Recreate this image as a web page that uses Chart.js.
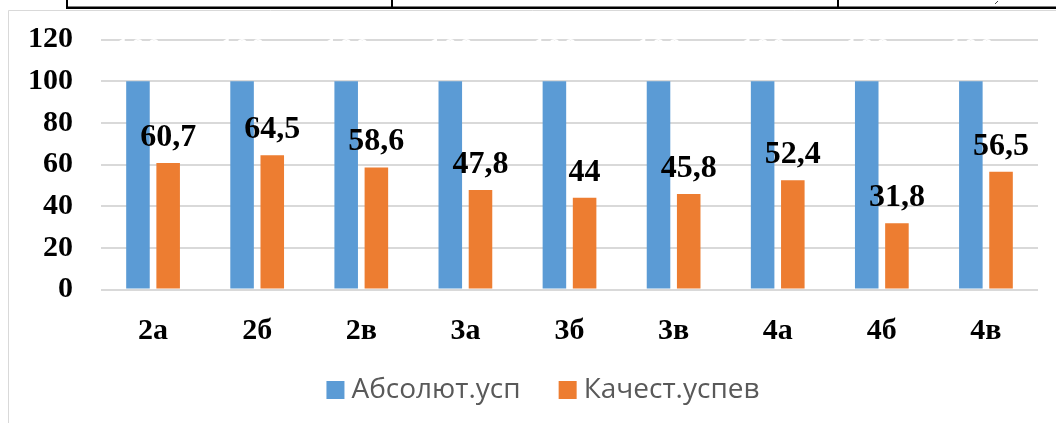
<!DOCTYPE html>
<html><head><meta charset="utf-8">
<script src="https://cdn.jsdelivr.net/npm/chart.js@4.4.1/dist/chart.umd.min.js"></script>
<style>html,body{margin:0;padding:0;background:#fff;overflow:hidden;} #wrap{width:1056px;height:423px;position:relative;}</style>
</head><body><div id="wrap"><canvas id="c" width="1056" height="423"></canvas></div>
<script>
const categories = ['2а','2б','2в','3а','3б','3в','4а','4б','4в'];
const absValues = [100,100,100,100,100,100,100,100,100];
const qualValues = [60.7,64.5,58.6,47.8,44,45.8,52.4,31.8,56.5];
const seriesNames = ['Абсолют.усп','Качест.успев'];
const seriesColors = ['#5b9bd5','#ed7d31'];
const yTicks = [0,20,40,60,80,100,120];

const serif = '"Liberation Serif", "Times New Roman", serif';
const fmt = v => String(v).replace('.', ',');

const decorPlugin = {
  id: 'decor',
  beforeDraw(chart) {
    const ctx = chart.ctx;
    ctx.save();
    ctx.fillStyle = '#fff';
    ctx.fillRect(0, 0, chart.width, chart.height);
    ctx.fillStyle = '#000';
    ctx.fillRect(66, 6.5, 990, 2.5);
    ctx.fillRect(66, 0, 2, 8);
    ctx.fillRect(391, 0, 2, 8);
    ctx.fillRect(837, 0, 2, 8);
    ctx.strokeStyle = '#444';
    ctx.lineWidth = 1;
    ctx.beginPath(); ctx.moveTo(995, 4); ctx.lineTo(998, 1); ctx.stroke();
    ctx.strokeStyle = '#d9d9d9';
    ctx.lineWidth = 1;
    ctx.beginPath();
    ctx.moveTo(8.5, 423); ctx.lineTo(8.5, 10.5); ctx.lineTo(1056, 10.5);
    ctx.stroke();
    ctx.restore();
  },
  afterDatasetsDraw(chart) {
    const ctx = chart.ctx;
    ctx.save();
    ctx.font = 'bold 32px ' + serif;
    ctx.textAlign = 'center';
    ctx.textBaseline = 'alphabetic';
    chart.data.datasets.forEach((ds, di) => {
      const meta = chart.getDatasetMeta(di);
      meta.data.forEach((bar, i) => {
        ctx.fillStyle = di === 0 ? '#ffffff' : '#000000';
        const off = di === 0 ? 21 : 17;
        ctx.fillText(fmt(ds.data[i]), bar.x, bar.y - off);
      });
    });
    ctx.restore();
  },
  afterDraw(chart) {
    const ctx = chart.ctx;
    ctx.save();
    ctx.font = '28px "Open Sans", sans-serif';
    ctx.textBaseline = 'alphabetic';
    ctx.textAlign = 'left';
    const box = 18, gapT = 7, gapI = 38;
    const widths = chart.data.datasets.map(ds => ctx.measureText(ds.label).width);
    let total = 0;
    widths.forEach((w, i) => { total += box + gapT + w + (i < widths.length - 1 ? gapI : 0); });
    let x = 543 - total / 2;
    chart.data.datasets.forEach((ds, i) => {
      ctx.fillStyle = ds.backgroundColor;
      ctx.fillRect(x, 381, box, box);
      x += box + gapT;
      ctx.fillStyle = '#595959';
      ctx.fillText(ds.label, x, 398);
      x += widths[i] + gapI;
    });
    ctx.restore();
  }
};

new Chart(document.getElementById('c'), {
  type: 'bar',
  data: {
    labels: categories,
    datasets: [
      { label: seriesNames[0], data: absValues, backgroundColor: seriesColors[0] },
      { label: seriesNames[1], data: qualValues, backgroundColor: seriesColors[1] }
    ]
  },
  options: {
    responsive: false,
    animation: false,
    devicePixelRatio: 1,
    categoryPercentage: 0.58,
    barPercentage: 0.78,
    layout: { padding: { top: 39.5, right: 18, left: 0, bottom: 0 } },
    plugins: { legend: { display: false }, tooltip: { enabled: false } },
    scales: {
      x: {
        grid: { display: false },
        border: { display: false },
        ticks: { font: { family: serif, size: 30, weight: 'bold' }, color: '#000', padding: 16, maxRotation: 0 },
        afterFit(scale) { scale.height = 133.5; }
      },
      y: {
        min: 0, max: 120,
        border: { display: false },
        grid: { color: '#d9d9d9', lineWidth: 2, drawTicks: false },
        ticks: { font: { family: serif, size: 30, weight: 'bold' }, color: '#000', padding: 28, stepSize: 20 },
        afterBuildTicks(scale) { scale.ticks = yTicks.map(v => ({ value: v })); },
        afterFit(scale) { scale.width = 101; scale.paddingTop = 0; scale.paddingBottom = 0; }
      }
    }
  },
  plugins: [decorPlugin]
});
</script>
</body></html>
